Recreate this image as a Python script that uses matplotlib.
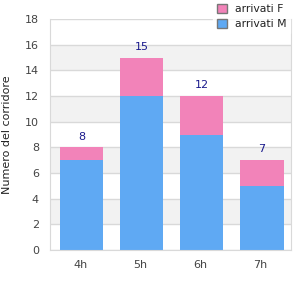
import matplotlib
matplotlib.use("Agg")
import matplotlib.pyplot as plt
import numpy as np

hours = ["4h", "5h", "6h", "7h"]
arrivati_m = [7, 12, 9, 5]
arrivati_f = [1, 3, 3, 2]
totals = [8, 15, 12, 7]

pink = "#f283b9"
blue = "#5fa9f3"
grid = "#d9d9d9"
text_col = "#444444"

fig = plt.figure(figsize=(3, 3), dpi=100)
ax = fig.add_axes([50 / 300, 50 / 300, 240.5 / 300, 231 / 300])

x = np.arange(len(hours))
# alternating bands
for lo in range(2, 18, 4):
    ax.axhspan(lo, lo + 2, color="#f2f2f2", zorder=0, lw=0)
ax.set_yticks(range(0, 19, 2))
ax.yaxis.grid(True, color=grid, lw=1)
ax.set_axisbelow(True)

ax.bar(x + 0.025, arrivati_m, width=0.72, color=blue, label="arrivati M", zorder=2)
ax.bar(x + 0.025, arrivati_f, width=0.72, bottom=arrivati_m, color=pink,
       label="arrivati F", zorder=2)
for xi, t in zip(x, totals):
    ax.text(xi + 0.025, t + 0.45, str(t), ha="center", va="bottom",
            fontsize=8, color="#1a1a8c")

ax.set_xlim(-0.5, 3.5)
ax.set_ylim(0, 18)
ax.set_xticks(x)
ax.set_xticklabels(hours)
ax.tick_params(length=0, labelsize=8, labelcolor=text_col, pad=8)
ax.tick_params(axis="x", pad=7)
for side in ["left", "bottom", "right"]:
    ax.spines[side].set_color(grid)
ax.spines["top"].set_visible(False)
ax.set_ylabel("Numero del corridore", fontsize=8, color="#222222", labelpad=9)

handles, labels = ax.get_legend_handles_labels()
leg = fig.legend(handles[::-1], labels[::-1], loc="upper right",
                 bbox_to_anchor=(0.985, 1.018), frameon=True, fontsize=7.8,
                 handlelength=0.9, handleheight=0.9, handletextpad=0.75,
                 labelspacing=0.45, borderpad=0.35, edgecolor="white",
                 fancybox=False)
leg.get_frame().set_facecolor("white")
for h in leg.legend_handles:
    h.set_edgecolor("#777777")
    h.set_linewidth(1)
for t in leg.get_texts():
    t.set_color("#222222")

fig.savefig("out.png", dpi=100)
plt.close(fig)
